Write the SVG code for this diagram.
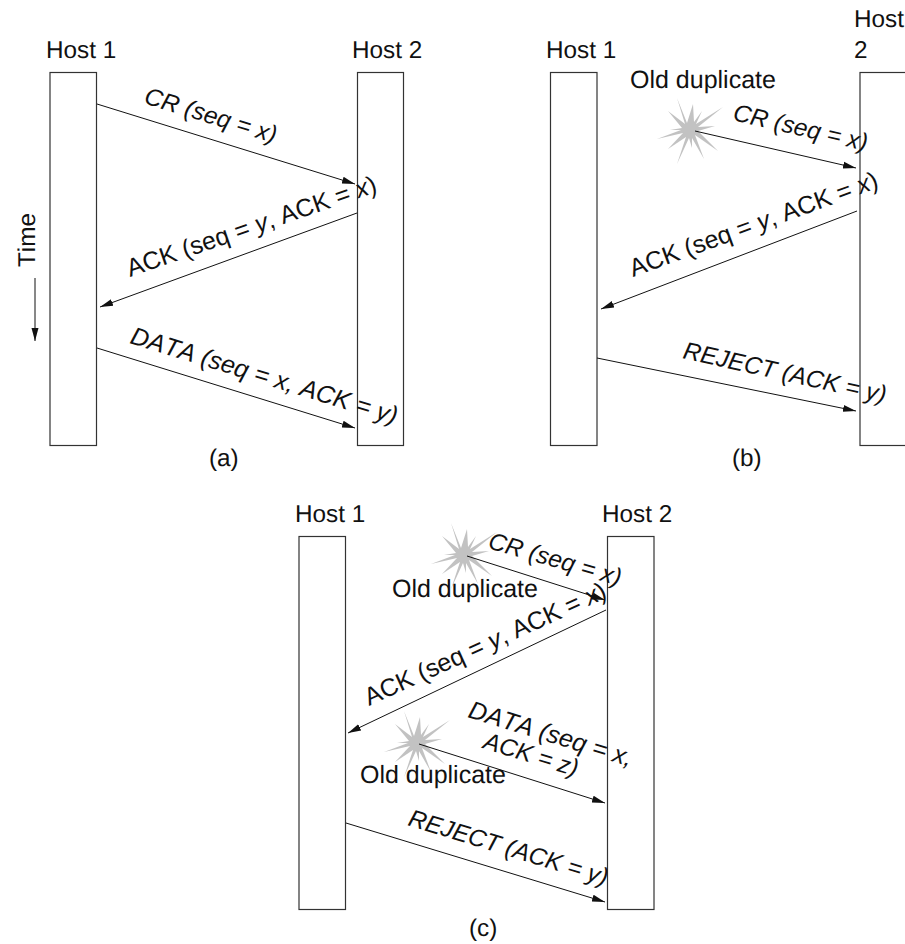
<svg xmlns="http://www.w3.org/2000/svg" width="905" height="944" viewBox="0 0 905 944">
<style>
text{font-family:"Liberation Sans",Arial,sans-serif;font-size:24.3px;fill:#111;font-kerning:none;text-rendering:geometricPrecision}
.big{font-size:25px}
.i{font-style:italic}
.box{fill:#fff;stroke:#333;stroke-width:1.2}
.ln{fill:none;stroke:#111;stroke-width:1;marker-end:url(#ah)}
.star{fill:#c2c2c2}
</style>
<defs>
<marker id="ah" markerUnits="userSpaceOnUse" markerWidth="15" markerHeight="10" refX="13" refY="5" orient="auto"><path d="M0,1.500 L13,5 L0,8.500 Z" fill="#111"/></marker>
<polygon id="burst" points="-13,-32 -3,-7 3,-26 4,-8 12,-19 6,-6 33,-23 8,-3 25,-4 8,1 28,21 5,5 14,29 2,8 2,18 -1,8 -13,34 -4,7 -22,19 -7,3 -33,9 -9,0 -20,0 -8,-2 -22,-19 -5,-6" />
</defs>
<g id="a-host1"><rect class="box" x="50" y="72.500" width="46.500" height="373"/><text x="46" y="58">Host 1</text></g>
<g id="a-host2"><rect class="box" x="357.500" y="72.500" width="46" height="373"/><text x="352" y="58">Host 2</text></g>
<g id="a-time"><text transform="translate(35 267) rotate(-90)">Time</text></g>
<text id="a-caption" x="209" y="466">(a)</text>
<g id="b-host1"><rect class="box" x="550.500" y="72.500" width="46.500" height="373"/><text x="546" y="58">Host 1</text></g>
<g id="b-host2"><rect class="box" x="860" y="72.500" width="50" height="373"/><text x="854" y="27">Host</text><text x="854" y="58">2</text></g>
<text id="b-caption" x="732" y="466">(b)</text>
<g id="b-burst"><use href="#burst" class="star" x="690" y="130"/><text class="big" x="630" y="88">Old duplicate</text></g>
<g id="c-host1"><rect class="box" x="299" y="536.500" width="46.500" height="373"/><text x="295" y="522">Host 1</text></g>
<g id="c-host2"><rect class="box" x="607.500" y="536.500" width="46.500" height="373"/><text x="602" y="522">Host 2</text></g>
<text id="c-caption" x="469" y="936">(c)</text>
<g id="c-burst1"><use href="#burst" class="star" x="464" y="555"/><text class="big" x="392" y="597">Old duplicate</text></g>
<g id="c-burst2"><use href="#burst" class="star" x="417" y="743"/><text class="big" x="360" y="783">Old duplicate</text></g>
<g id="connectors">
<line class="ln" x1="97" y1="104" x2="355" y2="184"/>
<line class="ln" x1="357" y1="213" x2="100" y2="307"/>
<line class="ln" x1="97" y1="348" x2="355" y2="428"/>
<line class="ln" x1="35" y1="278" x2="35" y2="341"/>
<line class="ln" x1="695" y1="131" x2="856" y2="168"/>
<line class="ln" x1="857" y1="211" x2="601" y2="309"/>
<line class="ln" x1="597" y1="358" x2="856" y2="411"/>
<line class="ln" x1="467" y1="556" x2="605" y2="600"/>
<line class="ln" x1="606" y1="610" x2="348" y2="733"/>
<line class="ln" x1="419" y1="744" x2="605" y2="803"/>
<line class="ln" x1="346" y1="823" x2="605" y2="902"/>
</g>
<g id="labels">
<text transform="translate(143 103) rotate(17)"><tspan class="i">CR (seq = x)</tspan></text>
<text class="big" transform="translate(130 277) rotate(-19)">ACK (seq = <tspan class="i">y</tspan>, ACK = <tspan class="i">x</tspan>)</text>
<text class="big" transform="translate(129 343) rotate(17)"><tspan class="i">DATA (seq = x, ACK = y)</tspan></text>
<text transform="translate(732 120) rotate(13)"><tspan class="i">CR (seq = x)</tspan></text>
<text class="big" transform="translate(633 277) rotate(-20)">ACK (seq = <tspan class="i">y</tspan>, ACK = <tspan class="i">x</tspan>)</text>
<text transform="translate(682 358) rotate(12.500)"><tspan class="i">REJECT (ACK = y)</tspan></text>
<text transform="translate(487 548) rotate(16)"><tspan class="i">CR (seq = x)</tspan></text>
<text class="big" transform="translate(369 706) rotate(-24.500)">ACK (seq = <tspan class="i">y</tspan>, ACK = <tspan class="i">x</tspan>)</text>
<text class="big" transform="translate(467 717) rotate(17)"><tspan class="i">DATA (seq = x,</tspan></text>
<text transform="translate(482 748) rotate(17)"><tspan class="i">ACK = z)</tspan></text>
<text transform="translate(407 825) rotate(17)"><tspan class="i">REJECT (ACK = y)</tspan></text>
</g>
</svg>
